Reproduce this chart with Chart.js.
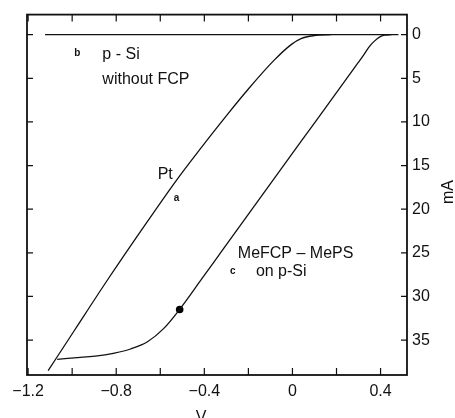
<!DOCTYPE html>
<html>
<head>
<meta charset="utf-8">
<script src="https://cdn.jsdelivr.net/npm/chart.js@4"></script>
<style>
  html, body { margin: 0; padding: 0; background: #fff; }
  #wrap { width: 455px; height: 418px; }
</style>
</head>
<body>
<div id="wrap"><canvas id="ivChart" width="455" height="418"></canvas></div>
<script>
// ---------- Data (V vs mA) ----------
const ptV = [-1.109, -0.990, -0.842, -0.680, -0.530, -0.422, -0.294, -0.201, -0.084, -0.006, 0.039, 0.098, 0.176];
const ptI = [38.5, 33.9, 28.2, 22.2, 16.8, 13.2, 9.1, 6.25, 2.95, 1.14, 0.45, 0.11, 0];

const mefV = [-1.068, -0.963, -0.886, -0.813, -0.735, -0.658, -0.585, -0.512, -0.416, -0.312, -0.189, 0.039, 0.176, 0.299, 0.326, 0.349, 0.372, 0.395, 0.417, 0.449];
const mefI = [37.2, 36.97, 36.82, 36.51, 36.02, 35.19, 33.69, 31.48, 28.14, 24.49, 20.19, 12.24, 7.47, 3.18, 2.22, 1.36, 0.74, 0.28, 0.06, 0];

const bareV = [-1.123, 0.481];
const bareI = [0, 0];

const dotV = [-0.512];
const dotI = [31.5];

const xTicks = [-1.2, -1.0, -0.8, -0.6, -0.4, -0.2, 0, 0.2, 0.4];
const xTickLabels = ['\u22121.2', '', '\u22120.8', '', '\u22120.4', '', '0', '', '0.4'];
const yTicks = [0, 5, 10, 15, 20, 25, 30, 35];

// annotation texts anchored in data units
const notes = [
    { text: 'b', v: -0.990, i: 2.5, bold: true },
    { text: 'p - Si', v: -0.863, i: 2.84 },
    { text: 'without FCP', v: -0.863, i: 5.68 },
    { text: 'Pt', v: -0.612, i: 16.5 },
    { text: 'a', v: -0.539, i: 19.1, bold: true },
    { text: 'MeFCP \u2013 MePS', v: -0.248, i: 25.6 },
    { text: 'c', v: -0.284, i: 27.4, bold: true },
    { text: 'on p-Si', v: -0.166, i: 27.6 }
];

const FONT = '"Liberation Sans", Arial, sans-serif';
const pts = (xs, ys) => xs.map((x, k) => ({ x, y: ys[k] }));

// frame, inward ticks, labels
const framePlugin = {
    id: 'frame',
    afterDraw(chart) {
        const { ctx, chartArea: { left, right, top, bottom } } = chart;
        const xs = chart.scales.x, ys = chart.scales.y;
        ctx.save();
        ctx.strokeStyle = '#111';
        ctx.lineWidth = 1.8;
        ctx.strokeRect(left, top, right - left, bottom - top);

        ctx.lineWidth = 1.2;
        ctx.beginPath();
        xTicks.forEach(v => {
            const px = xs.getPixelForValue(v);
            ctx.moveTo(px, bottom); ctx.lineTo(px, bottom - 7);
            ctx.moveTo(px, top); ctx.lineTo(px, top + 7);
        });
        yTicks.forEach(v => {
            const py = ys.getPixelForValue(v);
            ctx.moveTo(left, py); ctx.lineTo(left + 6, py);
            ctx.moveTo(right, py); ctx.lineTo(right - 6, py);
        });
        ctx.stroke();

        ctx.fillStyle = '#111';
        ctx.textBaseline = 'alphabetic';
        ctx.textAlign = 'left';
        notes.forEach(n => {
            ctx.font = n.bold ? `bold 10px ${FONT}` : `16px ${FONT}`;
            ctx.fillText(n.text, xs.getPixelForValue(n.v), ys.getPixelForValue(n.i));
        });

        // axis titles
        ctx.font = `16px ${FONT}`;
        ctx.textAlign = 'center';
        ctx.fillText('V', 201, 422);
        ctx.translate(453, 192);
        ctx.rotate(-Math.PI / 2);
        ctx.fillText('mA', 0, 0);
        ctx.restore();
    }
};

const lineStyle = {
    showLine: true,
    borderColor: '#111',
    borderWidth: 1.3,
    pointRadius: 0,
    cubicInterpolationMode: 'monotone',
    fill: false
};

new Chart(document.getElementById('ivChart'), {
    type: 'scatter',
    data: {
        datasets: [
            { label: 'Pt', data: pts(ptV, ptI), ...lineStyle },
            { label: 'MeFCP - MePS on p-Si', data: pts(mefV, mefI), ...lineStyle },
            { label: 'p-Si without FCP', data: pts(bareV, bareI), ...lineStyle, cubicInterpolationMode: 'default' },
            { label: 'marker', data: pts(dotV, dotI), showLine: false, pointRadius: 3.8, pointBackgroundColor: '#000', pointBorderWidth: 0 }
        ]
    },
    options: {
        responsive: false,
        animation: false,
        layout: { padding: { left: 27, top: 12, right: 0, bottom: 0 } },
        plugins: { legend: { display: false }, tooltip: { enabled: false } },
        scales: {
            x: {
                type: 'linear',
                min: -1.205, max: 0.52,
                grid: { display: false, drawTicks: false },
                border: { display: false },
                afterBuildTicks: s => { s.ticks = xTicks.map(value => ({ value })); },
                afterFit: s => { s.height = 43; },
                ticks: {
                    autoSkip: false, maxRotation: 0, padding: 7,
                    color: '#111', font: { family: FONT, size: 16 },
                    callback: (v, idx) => xTickLabels[idx]
                }
            },
            y: {
                type: 'linear',
                position: 'right',
                reverse: true,
                min: -2.3, max: 39,
                grid: { display: false, drawTicks: false },
                border: { display: false },
                afterBuildTicks: s => { s.ticks = yTicks.map(value => ({ value })); },
                afterFit: s => { s.width = 48; },
                ticks: {
                    autoSkip: false, padding: 5,
                    color: '#111', font: { family: FONT, size: 16 },
                    callback: v => String(v)
                }
            }
        }
    },
    plugins: [framePlugin]
});
</script>
</body>
</html>
